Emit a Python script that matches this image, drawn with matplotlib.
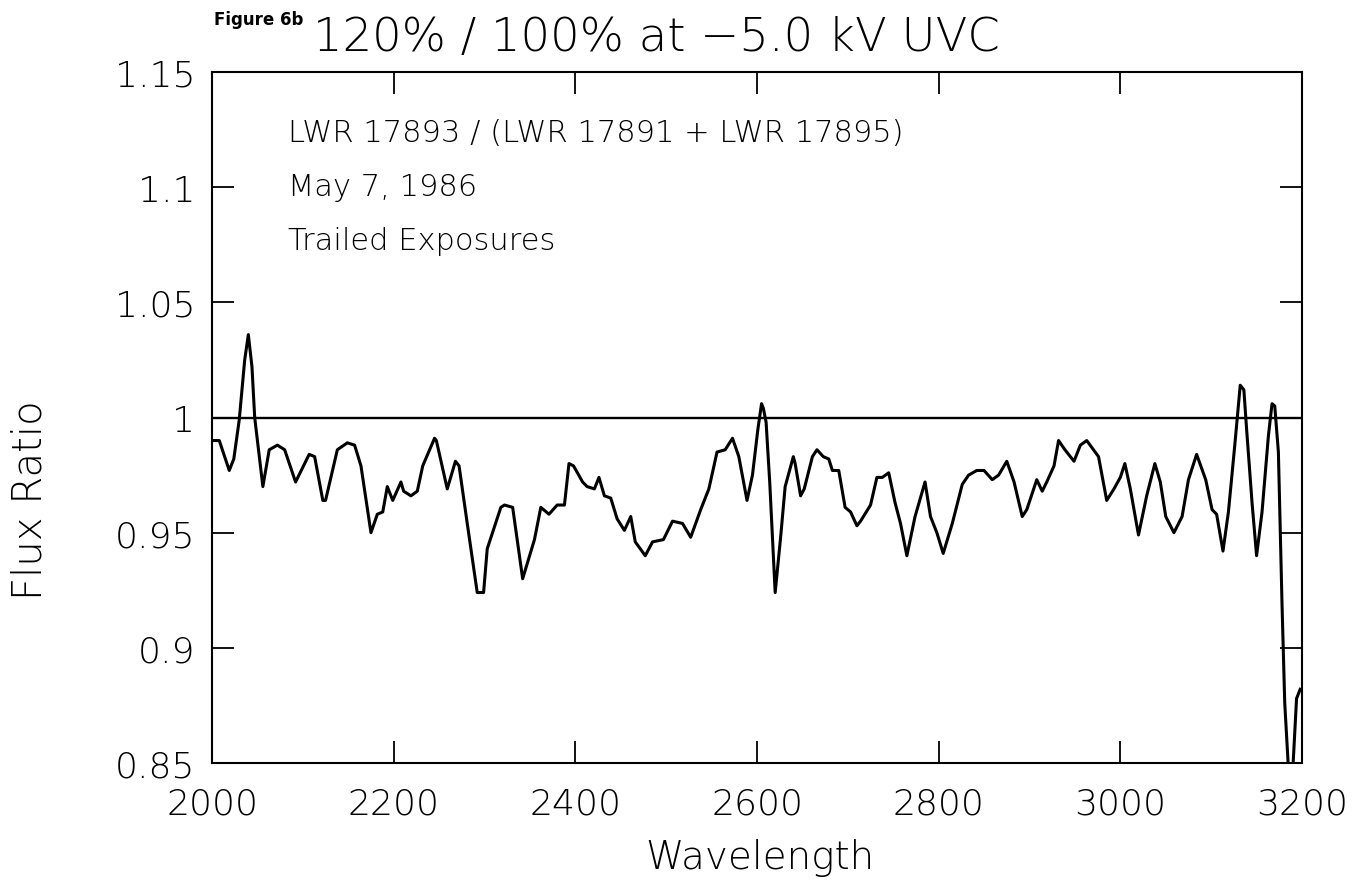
import matplotlib
matplotlib.use("Agg")
import matplotlib.pyplot as plt
import numpy as np

wavelength = [2002, 2008, 2019, 2024, 2030, 2036, 2040, 2044, 2047, 2056, 2063, 2072, 2080,
              2092, 2107, 2113, 2122, 2125, 2138, 2149, 2157, 2164, 2175, 2182, 2188, 2193,
              2199, 2208, 2211, 2219, 2226, 2232, 2245, 2247, 2259, 2268, 2272, 2281, 2292,
              2299, 2303, 2318, 2322, 2331, 2342, 2355, 2362, 2371, 2380, 2388, 2393, 2398,
              2408, 2413, 2421, 2426, 2432, 2439, 2446, 2454, 2461, 2466, 2477, 2485, 2497,
              2507, 2518, 2527, 2538, 2547, 2556, 2565, 2573, 2580, 2589, 2595, 2601, 2605,
              2607, 2610, 2614, 2620, 2626, 2631, 2640, 2642, 2648, 2652, 2661, 2666, 2673,
              2679, 2683, 2690, 2697, 2703, 2710, 2714, 2725, 2732, 2738, 2745, 2752, 2758,
              2765, 2774, 2785, 2791, 2798, 2805, 2815, 2826, 2833, 2842, 2850, 2859, 2866,
              2875, 2883, 2892, 2897, 2908, 2914, 2919, 2927, 2932, 2939, 2949, 2956, 2963,
              2976, 2985, 2993, 3000, 3005, 3011, 3020, 3029, 3038, 3044, 3050, 3059, 3068,
              3075, 3084, 3094, 3101, 3106, 3113, 3119, 3126, 3132, 3136, 3139, 3145, 3150,
              3156, 3163, 3167, 3170, 3174, 3178, 3181, 3185, 3190, 3194, 3198]
flux_ratio = [0.990, 0.990, 0.977, 0.982, 0.999, 1.025, 1.036, 1.022, 1.000, 0.970, 0.986,
              0.988, 0.986, 0.972, 0.984, 0.983, 0.964, 0.964, 0.986, 0.989, 0.988, 0.979,
              0.950, 0.958, 0.959, 0.970, 0.964, 0.972, 0.968, 0.966, 0.968, 0.979, 0.991,
              0.990, 0.969, 0.981, 0.979, 0.954, 0.924, 0.924, 0.943, 0.961, 0.962, 0.961,
              0.930, 0.947, 0.961, 0.958, 0.962, 0.962, 0.980, 0.979, 0.972, 0.970, 0.969,
              0.974, 0.966, 0.965, 0.956, 0.951, 0.957, 0.946, 0.940, 0.946, 0.947, 0.955,
              0.954, 0.948, 0.960, 0.969, 0.985, 0.986, 0.991, 0.983, 0.964, 0.975, 0.995,
              1.006, 1.004, 0.998, 0.972, 0.924, 0.948, 0.970, 0.983, 0.980, 0.966, 0.969,
              0.983, 0.986, 0.983, 0.982, 0.977, 0.977, 0.961, 0.959, 0.953, 0.955, 0.962,
              0.974, 0.974, 0.976, 0.963, 0.954, 0.940, 0.957, 0.972, 0.957, 0.950, 0.941,
              0.954, 0.971, 0.975, 0.977, 0.977, 0.973, 0.975, 0.981, 0.972, 0.957, 0.960,
              0.973, 0.968, 0.972, 0.979, 0.990, 0.986, 0.981, 0.988, 0.990, 0.983, 0.964,
              0.969, 0.974, 0.980, 0.969, 0.949, 0.966, 0.980, 0.972, 0.957, 0.950, 0.957,
              0.973, 0.984, 0.973, 0.960, 0.958, 0.942, 0.959, 0.988, 1.014, 1.012, 0.995,
              0.963, 0.940, 0.959, 0.992, 1.006, 1.005, 0.985, 0.919, 0.876, 0.848, 0.848,
              0.878, 0.882]

x_ticks = [2000, 2200, 2400, 2600, 2800, 3000, 3200]
y_ticks = [0.85, 0.9, 0.95, 1.0, 1.05, 1.1, 1.15]
y_tick_labels = ["0.85", "0.9", "0.95", "1", "1.05", "1.1", "1.15"]
annotation_lines = ["LWR 17893 / (LWR 17891 + LWR 17895)", "May 7, 1986", "Trailed Exposures"]

plt.rcParams['font.family'] = ['DejaVu Sans']
plt.rcParams['font.weight'] = 'light'

fig = plt.figure(figsize=(13.64, 8.87), dpi=100)
ax = fig.add_axes([212 / 1364, 1 - 764 / 887, (1302 - 212) / 1364, (764 - 73) / 887])

ax.plot(wavelength, flux_ratio, color='black', lw=2.2, solid_joinstyle='round')
ax.axhline(1.0, color='black', lw=1.7)

ax.set_xlim(2000, 3200)
ax.set_ylim(0.85, 1.15)
ax.set_xticks(x_ticks)
ax.set_xticklabels([str(t) for t in x_ticks])
ax.set_yticks(y_ticks)
ax.set_yticklabels(y_tick_labels)
ax.tick_params(direction='in', length=16, width=1.3, top=True, right=True,
               labelsize=26, colors='black')
ax.tick_params(axis='x', pad=17)
ax.tick_params(axis='y', pad=12)
for s in ax.spines.values():
    s.set_linewidth(1.5)

fig.text(760 / 1364, 1 - 858 / 887, "Wavelength", fontsize=28, ha='center', va='center')
fig.text(30 / 1364, 1 - 500 / 887, "Flux Ratio", fontsize=29, ha='center', va='center',
         rotation=90)

for i, line in enumerate(annotation_lines):
    fig.text(288 / 1364, 1 - (133 + 54 * i) / 887, line, fontsize=22,
             va='center', ha='left')

fig.text(214 / 1364, 1 - 20 / 887, "Figure 6b", fontsize=12, fontweight='bold',
         va='center', ha='left')
fig.text(313 / 1364, 1 - 38 / 887, "120% / 100% at \u22125.0 kV UVC", fontsize=33.5,
         va='center', ha='left')

fig.savefig("out.png", dpi=100)
